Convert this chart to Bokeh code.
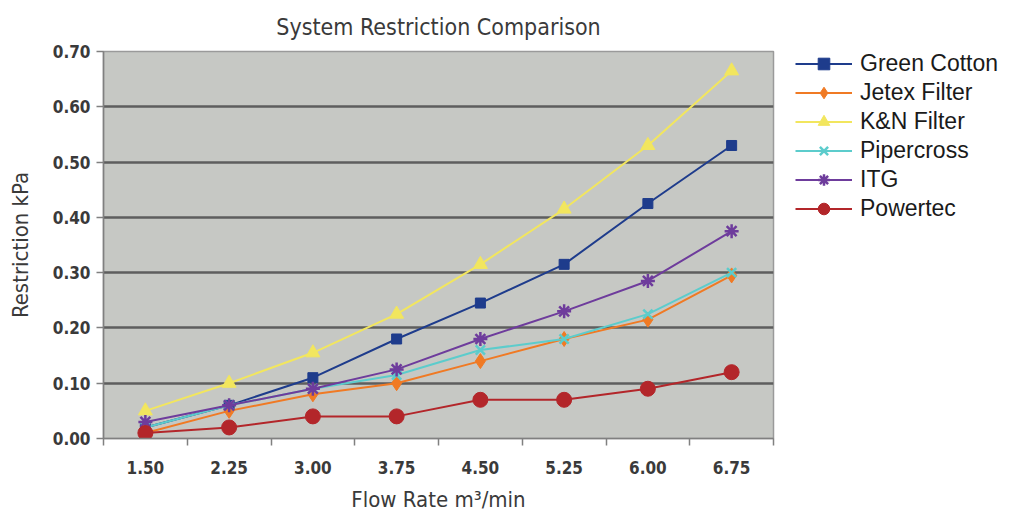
from bokeh.plotting import figure
from bokeh.models import FixedTicker, NumeralTickFormatter, Range1d
from bokeh.embed import file_html
from bokeh.resources import INLINE

flow = [1.50, 2.25, 3.00, 3.75, 4.50, 5.25, 6.00, 6.75]
green_cotton = [0.02, 0.06, 0.11, 0.18, 0.245, 0.315, 0.425, 0.53]
jetex = [0.01, 0.05, 0.08, 0.10, 0.14, 0.18, 0.215, 0.295]
kn = [0.05, 0.10, 0.155, 0.225, 0.315, 0.415, 0.53, 0.665]
pipercross = [0.02, 0.06, 0.09, 0.115, 0.16, 0.18, 0.225, 0.30]
itg = [0.03, 0.06, 0.09, 0.125, 0.18, 0.23, 0.285, 0.375]
powertec = [0.01, 0.02, 0.04, 0.04, 0.07, 0.07, 0.09, 0.12]
y_ticks = [0.0, 0.1, 0.2, 0.3, 0.4, 0.5, 0.6, 0.7]

FW, FH = 670, 387
step = flow[1] - flow[0]
COND = "'DejaVu Sans Condensed', 'DejaVu Sans', sans-serif"

p = figure(frame_width=FW, frame_height=FH, output_backend="svg", toolbar_location=None,
           min_border_left=103, min_border_right=227, min_border_top=51, min_border_bottom=62,
           x_range=Range1d(flow[0] - step / 2, flow[-1] + step / 2),
           y_range=Range1d(0, 0.70),
           title="System Restriction Comparison")

p.background_fill_color = "#c6c8c4"
p.border_fill_color = "white"
p.outline_line_color = "#9a9a9a"
p.outline_line_width = 1.5

p.title.align = "center"
p.title.text_font = COND
p.title.text_font_size = "23px"
p.title.text_font_style = "normal"
p.title.text_color = "#3a3a3a"
p.title.standoff = 23

series = [
    ("Green Cotton", green_cotton, "#1e3c8c", "square", 10),
    ("Jetex Filter", jetex, "#f07a24", "diamond", 15),
    ("K&N Filter", kn, "#f2e65e", "triangle", 14),
    ("Pipercross", pipercross, "#5ccccc", "x", 13),
    ("ITG", itg, "#6e3c9c", "asterisk", 14),
    ("Powertec", powertec, "#b3262a", "circle", 15),
]
for name, vals, col, mk, sz in series:
    p.line(flow, vals, line_color=col, line_width=2, legend_label=name)
    if mk in ("x", "asterisk"):
        p.scatter(flow, vals, marker=mk, size=sz, line_color=col, line_width=2.5, legend_label=name)
    else:
        p.scatter(flow, vals, marker=mk, size=sz, fill_color=col, line_color=col, legend_label=name)

# axes
p.xaxis.ticker = FixedTicker(ticks=flow, minor_ticks=[f - step / 2 for f in flow] + [flow[-1] + step / 2])
p.xaxis.formatter = NumeralTickFormatter(format="0.00")
p.xaxis.major_tick_line_color = None
p.xaxis.minor_tick_out = 7
p.xaxis.minor_tick_in = 0
p.xaxis.minor_tick_line_color = "#808080"
p.xaxis.minor_tick_line_width = 1.5
p.xaxis.axis_line_color = "#808080"
p.xaxis.axis_line_width = 1.5
p.xaxis.major_label_standoff = 15

p.yaxis.ticker = FixedTicker(ticks=y_ticks, minor_ticks=[])
p.yaxis.formatter = NumeralTickFormatter(format="0.00")
p.yaxis.major_tick_out = 7
p.yaxis.major_tick_in = 0
p.yaxis.major_tick_line_color = "#808080"
p.yaxis.major_tick_line_width = 1.5
p.yaxis.axis_line_color = "#808080"
p.yaxis.axis_line_width = 1.5
p.yaxis.major_label_standoff = 6

for ax in (p.xaxis, p.yaxis):
    ax.major_label_text_font = COND
    ax.major_label_text_font_style = "bold"
    ax.major_label_text_font_size = "17px"
    ax.major_label_text_color = "#3a3a3a"
    ax.axis_label_text_font = COND
    ax.axis_label_text_font_style = "normal"
    ax.axis_label_text_font_size = "22px"
    ax.axis_label_text_color = "#3a3a3a"

p.xaxis.axis_label = "Flow Rate m³/min"
p.yaxis.axis_label = "Restriction kPa"
p.xaxis.axis_label_standoff = 10
p.yaxis.axis_label_standoff = 17

p.xgrid.grid_line_color = None
p.ygrid.grid_line_color = "#5e5e5e"
p.ygrid.grid_line_width = 2.5

lg = p.legend[0]
p.center.remove(lg)
GH, SP = 29, 0
LH = 6 * GH + 5 * SP
lg.location = (22, FH - LH + 2)
lg.padding = 0
lg.margin = 0
lg.spacing = SP
lg.glyph_width = 57
lg.glyph_height = GH
lg.label_height = GH
lg.label_standoff = 8
lg.label_text_font = "Liberation Sans"
lg.label_text_font_size = "23px"
lg.label_text_color = "#1a1a1a"
lg.border_line_color = None
lg.background_fill_alpha = 0
p.add_layout(lg, "right")

open("out.html", "w").write(file_html(p, INLINE))
